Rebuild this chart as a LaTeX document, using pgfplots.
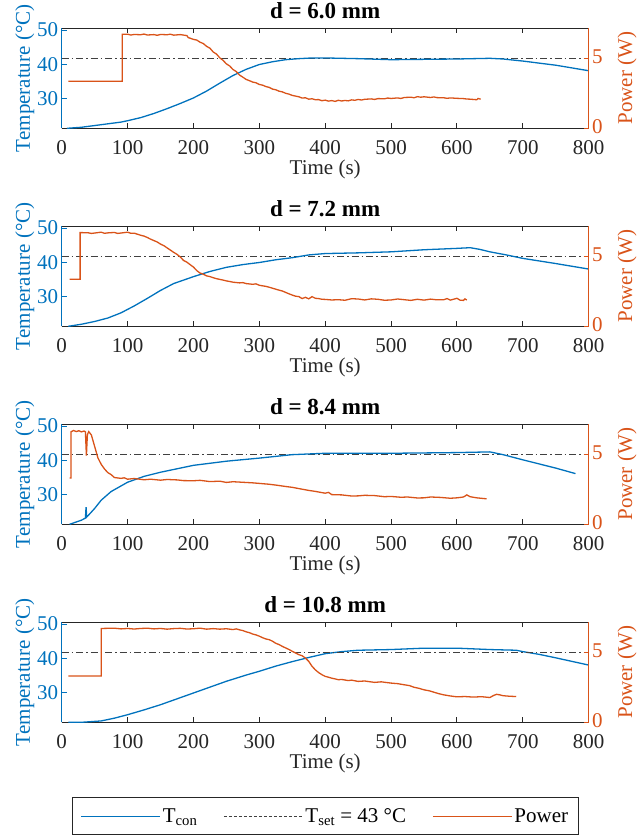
\documentclass[border=0pt]{standalone}
\usepackage{fontspec}
\setmainfont{Liberation Serif}
\usepackage{pgfplots}
\pgfplotsset{compat=1.18}
\definecolor{mblue}{RGB}{0,114,189}
\definecolor{morange}{RGB}{217,83,25}
\definecolor{tgray}{RGB}{64,64,64}
\definecolor{axgray}{RGB}{38,38,38}
\tikzset{
 tcon/.style={mblue,line width=1.3pt},
 pow/.style={morange,line width=1.3pt},
 tset/.style={tgray,line width=1.3pt,dash pattern=on 7pt off 3pt on 1.5pt off 3pt},
 tsetleg/.style={tgray,line width=1.1pt,dash pattern=on 3pt off 2pt},
}
\pgfplotsset{
 base/.style={width=527pt,height=100pt,scale only axis,xmin=0,xmax=800,
  /pgf/number format/assume math mode=true,
  tick align=inside, major tick length=5pt,
  every tick label/.append style={font=\fontsize{21}{25}\selectfont},
  label style={font=\fontsize{21}{25}\selectfont},
  title style={font=\fontsize{23}{27}\selectfont\bfseries},
 },
 leftax/.style={base,ymin=21.5,ymax=50.5,axis x line*=box,axis y line*=left,
  xtick={0,100,...,800},ytick={30,40,50},
  x axis line style={axgray,line width=1pt},y axis line style={mblue,line width=1pt},
  xtick style={axgray,line width=1pt},ytick style={mblue,line width=1pt},
  yticklabel style={mblue},xticklabel style={axgray,inner ysep=0pt,yshift=-12pt},
  ylabel={Temperature (°C)},ylabel style={mblue,yshift=-4pt},
  xlabel={Time (s)},xlabel style={axgray,yshift=-2pt}},
 rightax/.style={base,ymin=0,ymax=7.14,axis x line=none,axis y line*=right,
  xtick=\empty,ytick={0,5},
  y axis line style={morange,line width=1pt},ytick style={morange,line width=1pt},
  yticklabel style={morange,inner ysep=0pt,yshift=1.5pt},ylabel={Power (W)},ylabel style={morange,yshift=-8pt}},
}
\begin{document}
\begin{tikzpicture}
\useasboundingbox (-61.7pt,-710.7pt) rectangle (580.3pt,128.3pt);
% ---------- d = 6.0 mm
\begin{axis}[leftax,at={(0pt,0pt)},title={d = 6.0 mm}]
\addplot[tset] coordinates {(0,41.8) (800,41.8)};
\addplot[tcon] coordinates {(8,21.5) (30,21.8) (50,22.3) (70,22.8) (90,23.3) (100,23.7) (120,24.6) (140,25.8) (160,27.2) (180,28.7) (200,30.3) (220,32.3) (240,34.6) (260,36.8) (280,38.6) (300,40.0) (320,40.8) (340,41.4) (360,41.7) (380,41.9) (400,41.9) (450,41.7) (500,41.4) (550,41.5) (600,41.6) (650,41.8) (670,41.6) (700,41.0) (750,39.8) (800,38.2)};
\end{axis}
\begin{axis}[rightax,at={(0pt,0pt)}]
\addplot[pow] coordinates {(10,3.36) (92,3.36) (92,6.71) (100,6.72) (105,6.66) (110,6.70) (120,6.68) (125,6.73) (130,6.66) (140,6.69) (145,6.64) (150,6.70) (160,6.68) (165,6.72) (170,6.65) (180,6.69) (190,6.62) (192,6.48) (200,6.35) (205,6.30) (210,6.15) (215,6.05) (220,5.85) (225,5.72) (230,5.45) (235,5.30) (240,5.03) (245,4.85) (250,4.6) (255,4.45) (260,4.2) (265,4.05) (270,3.8) (275,3.65) (280,3.49) (285,3.40) (290,3.3) (295,3.25) (300,3.13) (305,3.08) (310,2.98) (315,2.92) (320,2.8) (325,2.75) (330,2.65) (335,2.60) (340,2.5) (345,2.44) (350,2.35) (355,2.30) (360,2.25) (365,2.16) (370,2.18) (375,2.08) (380,2.11) (385,2.04) (390,2.05) (395,1.97) (400,2.01) (405,1.94) (410,1.98) (415,1.92) (420,2.0) (425,1.95) (430,1.99) (435,1.96) (440,2.03) (445,2.00) (450,2.06) (455,2.02) (460,2.07) (470,2.10) (475,2.06) (480,2.12) (490,2.11) (495,2.16) (500,2.13) (510,2.17) (515,2.13) (520,2.2) (530,2.22) (535,2.18) (540,2.26) (545,2.22) (550,2.25) (560,2.20) (565,2.24) (570,2.19) (580,2.18) (585,2.14) (590,2.17) (600,2.14) (610,2.12) (615,2.09) (620,2.08) (630,2.04) (632,2.13) (636,2.08)};
\end{axis}
% ---------- d = 7.2 mm
\begin{axis}[leftax,at={(0pt,-198pt)},title={d = 7.2 mm}]
\addplot[tset] coordinates {(0,41.8) (800,41.8)};
\addplot[tcon] coordinates {(10,21.5) (30,22.1) (50,22.9) (70,23.9) (90,25.4) (100,26.4) (110,27.4) (130,29.6) (150,31.9) (170,33.9) (200,35.9) (225,37.4) (250,38.6) (275,39.4) (300,40.0) (325,40.8) (350,41.4) (375,42.2) (400,42.6) (450,42.8) (500,43.1) (550,43.7) (600,44.1) (620,44.3) (635,43.8) (650,43.1) (675,42.2) (700,41.2) (750,39.7) (800,38.1)};
\end{axis}
\begin{axis}[rightax,at={(0pt,-198pt)}]
\addplot[pow] coordinates {(12,3.36) (28,3.36) (28,6.69) (40,6.68) (45,6.63) (50,6.66) (60,6.72) (65,6.64) (70,6.67) (80,6.70) (85,6.63) (90,6.66) (100,6.72) (105,6.64) (110,6.65) (120,6.50) (125,6.44) (130,6.34) (135,6.22) (140,6.12) (145,6.02) (150,5.87) (155,5.76) (160,5.6) (165,5.44) (170,5.28) (175,5.14) (180,4.95) (185,4.70) (190,4.58) (195,4.40) (200,4.23) (205,3.98) (210,3.8) (215,3.72) (220,3.6) (225,3.55) (230,3.47) (235,3.40) (240,3.35) (245,3.30) (250,3.24) (255,3.20) (260,3.15) (270,3.1) (275,3.12) (280,3.05) (290,3.0) (295,3.03) (300,2.93) (310,2.85) (315,2.79) (320,2.72) (330,2.58) (335,2.52) (340,2.42) (345,2.32) (350,2.23) (355,2.15) (360,2.12) (365,1.98) (370,2.07) (375,1.96) (380,2.12) (385,2.0) (390,1.98) (395,1.93) (400,1.92) (410,1.88) (420,1.90) (430,1.86) (440,1.97) (450,1.95) (460,1.88) (470,1.96) (480,1.93) (490,1.86) (500,1.88) (510,1.95) (520,1.90) (530,1.85) (540,1.93) (550,1.87) (560,1.94) (570,1.89) (580,1.90) (585,1.98) (590,1.87) (600,2.0) (605,1.86) (610,1.85) (612,1.96) (615,1.88)};
\end{axis}
% ---------- d = 8.4 mm
\begin{axis}[leftax,at={(0pt,-396pt)},title={d = 8.4 mm}]
\addplot[tset] coordinates {(0,41.8) (800,41.8)};
\addplot[tcon] coordinates {(12,21.5) (30,22.7) (36,23.3) (37,26.5) (38,23.6) (40,24) (50,26.1) (60,28.5) (75,31) (100,33.7) (125,35.4) (150,36.6) (200,38.6) (250,39.8) (300,40.7) (350,41.7) (400,42.1) (500,42.1) (600,42.3) (650,42.5) (670,41.7) (700,40.2) (750,37.8) (780,36.2)};
\end{axis}
\begin{axis}[rightax,at={(0pt,-396pt)}]
\addplot[pow] coordinates {(12,3.3) (14,3.3) (14,6.6) (18,6.7) (22,6.62) (26,6.68) (30,6.6) (34,6.66) (36,6.6) (37.5,4.9) (39,6.4) (41,6.62) (45,6.38) (50,5.56) (55,4.74) (60,4.28) (65,3.95) (70,3.69) (75,3.55) (80,3.34) (90,3.28) (95,3.32) (100,3.22) (110,3.27) (125,3.18) (135,3.22) (150,3.15) (160,3.2) (175,3.17) (185,3.12) (200,3.11) (210,3.14) (225,3.05) (240,3.08) (250,2.99) (260,3.04) (275,3.0) (290,2.96) (300,2.92) (315,2.86) (325,2.8) (340,2.70) (350,2.64) (360,2.55) (375,2.42) (385,2.35) (400,2.22) (405,2.28) (410,2.12) (425,2.1) (440,2.02) (450,2.03) (460,2.07) (475,2.05) (490,1.97) (500,1.99) (515,1.93) (525,1.95) (540,1.88) (550,1.89) (560,1.95) (575,1.92) (590,1.86) (600,1.89) (610,1.95) (615,2.1) (620,1.97) (630,1.89) (645,1.82)};
\end{axis}
% ---------- d = 10.8 mm
\begin{axis}[leftax,at={(0pt,-594pt)},title={d = 10.8 mm},
  legend style={at={(0.0196,-0.747)},anchor=north west,draw=axgray,line width=1pt,
    font=\fontsize{21}{25}\selectfont,inner ysep=9pt,inner xsep=8pt,
    /tikz/every even column/.append style={column sep=24pt}},
  legend columns=3,legend cell align=left,
  legend image code/.code={\draw[#1] (0pt,0pt) -- (79pt,0pt);}]
\addplot[tcon] coordinates {(10,21.5) (30,21.5) (60,21.9) (80,22.7) (100,23.7) (125,25.1) (150,26.6) (175,28.3) (200,30) (225,31.7) (250,33.4) (280,35.2) (300,36.3) (325,37.8) (350,39.1) (375,40.3) (400,41.4) (425,42.0) (450,42.4) (500,42.6) (550,43) (600,43) (650,42.6) (690,42.4) (700,42) (725,41.2) (750,40.2) (800,38.1)};
\addlegendentry{T\textsubscript{con}}
\addplot[tset,forget plot] coordinates {(0,41.8) (800,41.8)};
\addlegendimage{tsetleg}
\addlegendentry{T\textsubscript{set} = 43 °C}
\addlegendimage{pow}
\addlegendentry{Power}
\end{axis}
\begin{axis}[rightax,at={(0pt,-594pt)}]
\addplot[pow] coordinates {(10,3.3) (60,3.3) (60,6.7) (80,6.72) (90,6.67) (100,6.7) (110,6.66) (120,6.70) (130,6.72) (140,6.67) (150,6.70) (160,6.65) (170,6.69) (180,6.71) (190,6.66) (200,6.68) (210,6.72) (220,6.65) (230,6.69) (240,6.65) (250,6.68) (260,6.62) (265,6.67) (270,6.6) (275,6.55) (280,6.46) (285,6.40) (290,6.3) (295,6.24) (300,6.15) (305,6.04) (310,5.95) (315,5.90) (320,5.79) (325,5.64) (330,5.55) (335,5.42) (340,5.31) (345,5.20) (350,5.07) (355,4.95) (360,4.83) (365,4.75) (370,4.59) (375,4.35) (380,4.0) (385,3.75) (390,3.55) (395,3.40) (400,3.28) (405,3.22) (410,3.15) (415,3.10) (420,3.04) (425,3.06) (435,2.98) (440,3.01) (450,2.92) (460,2.95) (475,2.85) (485,2.89) (500,2.8) (510,2.76) (520,2.68) (528,2.62) (535,2.5) (542,2.43) (550,2.32) (558,2.25) (565,2.15) (572,2.05) (580,1.96) (590,1.88) (600,1.82) (612,1.84) (625,1.80) (637,1.83) (650,1.77) (655,1.90) (660,2.0) (665,1.96) (670,1.9) (680,1.86) (690,1.84)};
\end{axis}
\end{tikzpicture}
\end{document}
